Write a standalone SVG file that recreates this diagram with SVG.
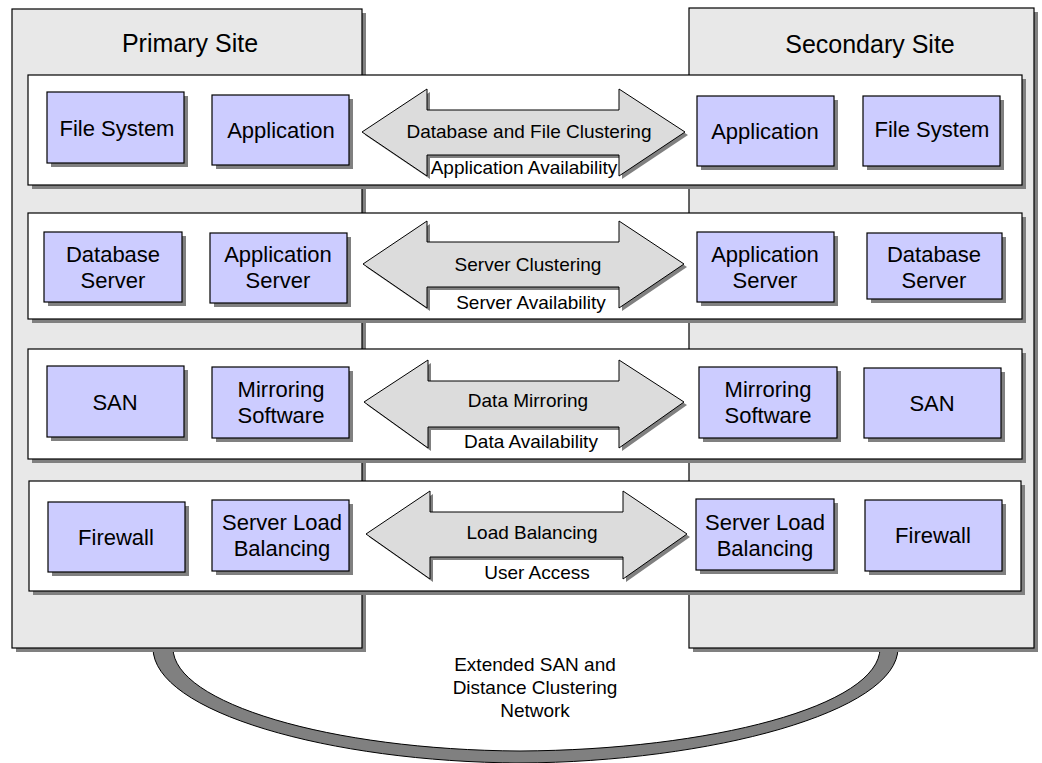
<svg xmlns="http://www.w3.org/2000/svg" width="1042" height="763" viewBox="0 0 1042 763">
<style>
.sh{fill:#808080;stroke:none}
.site{fill:#e8e8e8;stroke:#000;stroke-width:1.2}
.band{fill:#fff;stroke:#000;stroke-width:1.2}
.node{fill:#ccccff;stroke:#000;stroke-width:1.2}
.arr{fill:#dcdcdc;stroke:#000;stroke-width:1}
.cable{fill:#808080;stroke:#000;stroke-width:1}
text{font-family:"Liberation Sans",Arial,sans-serif;fill:#000;text-anchor:middle}
.t{font-size:22px}
.s{font-size:19px}
.h{font-size:25px}
</style>
<rect width="1042" height="763" fill="#fff"/>
<g id="cable">
<path class="cable" d="M153,640 L153,648 C153,712 330,762 520,763 C710,762 898,712 898,648 L898,640 L880,640 L880,648 C880,706 710,750 520,751 C330,750 173,703 173,648 L173,640 Z"/>
<text class="s" x="535" y="671">Extended SAN and</text>
<text class="s" x="535" y="694">Distance Clustering</text>
<text class="s" x="535" y="717">Network</text>
</g>
<g id="primary-site">
<rect class="sh" x="16" y="13" width="350" height="639"/>
<rect class="site" x="12" y="9" width="350" height="639"/>
<text class="h" x="190" y="52">Primary Site</text>
</g>
<g id="secondary-site">
<rect class="sh" x="693" y="12" width="345" height="640"/>
<rect class="site" x="689" y="8" width="345" height="640"/>
<text class="h" x="870" y="53">Secondary Site</text>
</g>
<g id="bands">
<rect class="sh" x="32" y="79" width="994" height="110"/>
<rect class="band" x="28" y="75" width="994" height="110"/>
<rect class="sh" x="32" y="217" width="994" height="106"/>
<rect class="band" x="28" y="213" width="994" height="106"/>
<rect class="sh" x="32" y="353" width="994" height="110"/>
<rect class="band" x="28" y="349" width="994" height="110"/>
<rect class="sh" x="33" y="485" width="992" height="110"/>
<rect class="band" x="29" y="481" width="992" height="110"/>
</g>
<g id="connectors">
<g id="arrow-row1">
<path class="sh" transform="translate(3,3)" d="M362,132 L427,89 L427,110 L619,110 L619,89 L685,132 L619,176 L619,155 L427,155 L427,176 Z"/>
<path class="arr" d="M362,132 L427,89 L427,110 L619,110 L619,89 L685,132 L619,176 L619,155 L427,155 L427,176 Z"/>
<text class="s" x="529" y="138">Database and File Clustering</text>
<text class="s" x="524" y="174">Application Availability</text>
</g>
<g id="arrow-row2">
<path class="sh" transform="translate(3,3)" d="M363,264 L427,221 L427,242 L619,242 L619,221 L684,264 L619,308 L619,287 L427,287 L427,308 Z"/>
<path class="arr" d="M363,264 L427,221 L427,242 L619,242 L619,221 L684,264 L619,308 L619,287 L427,287 L427,308 Z"/>
<text class="s" x="528" y="271">Server Clustering</text>
<text class="s" x="531" y="309">Server Availability</text>
</g>
<g id="arrow-row3">
<path class="sh" transform="translate(3,3)" d="M364,402 L428,360 L428,381 L619,381 L619,360 L684,402 L619,448 L619,427 L428,427 L428,448 Z"/>
<path class="arr" d="M364,402 L428,360 L428,381 L619,381 L619,360 L684,402 L619,448 L619,427 L428,427 L428,448 Z"/>
<text class="s" x="528" y="407">Data Mirroring</text>
<text class="s" x="531" y="448">Data Availability</text>
</g>
<g id="arrow-row4">
<path class="sh" transform="translate(3,3)" d="M366,534 L430,491 L430,512 L623,512 L623,491 L687,534 L623,579 L623,557 L430,557 L430,579 Z"/>
<path class="arr" d="M366,534 L430,491 L430,512 L623,512 L623,491 L687,534 L623,579 L623,557 L430,557 L430,579 Z"/>
<text class="s" x="532" y="539">Load Balancing</text>
<text class="s" x="537" y="579">User Access</text>
</g>
</g>
<g id="n-fs-l"><rect class="sh" x="51" y="96" width="137" height="71"/><rect class="node" x="47" y="92" width="137" height="71"/><text class="t" x="117" y="136">File System</text></g>
<g id="n-app-l"><rect class="sh" x="216" y="99" width="137" height="70"/><rect class="node" x="212" y="95" width="137" height="70"/><text class="t" x="281" y="138">Application</text></g>
<g id="n-app-r"><rect class="sh" x="701" y="100" width="137" height="70"/><rect class="node" x="697" y="96" width="137" height="70"/><text class="t" x="765" y="139">Application</text></g>
<g id="n-fs-r"><rect class="sh" x="867" y="100" width="137" height="70"/><rect class="node" x="863" y="96" width="137" height="70"/><text class="t" x="932" y="137">File System</text></g>

<g id="n-db-l"><rect class="sh" x="48" y="236" width="138" height="70"/><rect class="node" x="44" y="232" width="138" height="70"/><text class="t" x="113" y="262">Database</text><text class="t" x="113" y="288">Server</text></g>
<g id="n-as-l"><rect class="sh" x="214" y="237" width="137" height="70"/><rect class="node" x="210" y="233" width="137" height="70"/><text class="t" x="278" y="262">Application</text><text class="t" x="278" y="288">Server</text></g>
<g id="n-as-r"><rect class="sh" x="701" y="236" width="137" height="70"/><rect class="node" x="697" y="232" width="137" height="70"/><text class="t" x="765" y="262">Application</text><text class="t" x="765" y="288">Server</text></g>
<g id="n-db-r"><rect class="sh" x="871" y="237" width="135" height="66"/><rect class="node" x="867" y="233" width="135" height="66"/><text class="t" x="934" y="262">Database</text><text class="t" x="934" y="288">Server</text></g>

<g id="n-san-l"><rect class="sh" x="51" y="370" width="137" height="71"/><rect class="node" x="47" y="366" width="137" height="71"/><text class="t" x="115" y="410">SAN</text></g>
<g id="n-mir-l"><rect class="sh" x="216" y="371" width="137" height="71"/><rect class="node" x="212" y="367" width="137" height="71"/><text class="t" x="281" y="397">Mirroring</text><text class="t" x="281" y="423">Software</text></g>
<g id="n-mir-r"><rect class="sh" x="703" y="371" width="138" height="71"/><rect class="node" x="699" y="367" width="138" height="71"/><text class="t" x="768" y="397">Mirroring</text><text class="t" x="768" y="423">Software</text></g>
<g id="n-san-r"><rect class="sh" x="868" y="372" width="137" height="70"/><rect class="node" x="864" y="368" width="137" height="70"/><text class="t" x="932" y="411">SAN</text></g>

<g id="n-fw-l"><rect class="sh" x="52" y="506" width="137" height="70"/><rect class="node" x="48" y="502" width="137" height="70"/><text class="t" x="116" y="545">Firewall</text></g>
<g id="n-slb-l"><rect class="sh" x="216" y="504" width="137" height="71"/><rect class="node" x="212" y="500" width="137" height="71"/><text class="t" x="282" y="530">Server Load</text><text class="t" x="282" y="556">Balancing</text></g>
<g id="n-slb-r"><rect class="sh" x="700" y="503" width="138" height="71"/><rect class="node" x="696" y="499" width="138" height="71"/><text class="t" x="765" y="530">Server Load</text><text class="t" x="765" y="556">Balancing</text></g>
<g id="n-fw-r"><rect class="sh" x="869" y="504" width="137" height="71"/><rect class="node" x="865" y="500" width="137" height="71"/><text class="t" x="933" y="543">Firewall</text></g>
</svg>
